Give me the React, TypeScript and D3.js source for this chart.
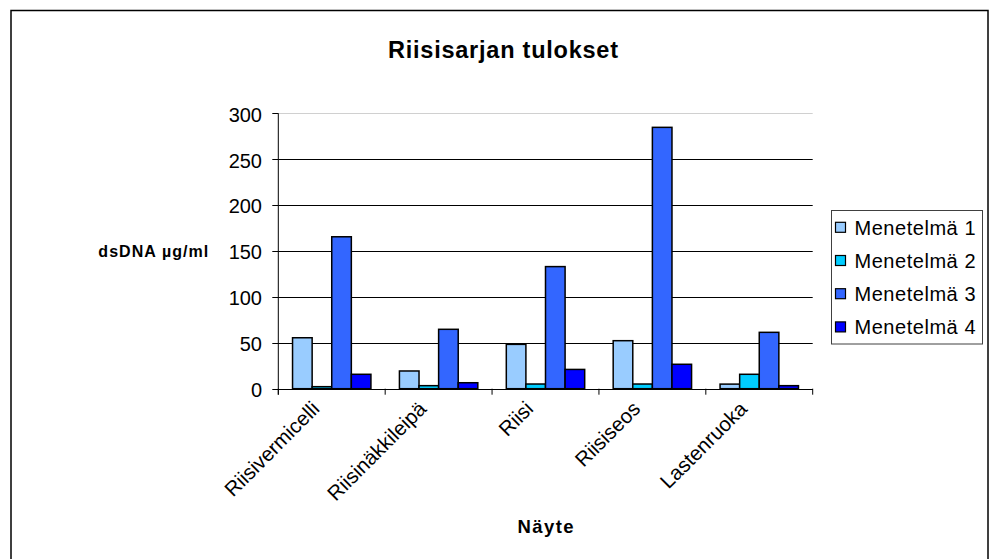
import React from "react";
import * as d3 from "d3";

// Sample categories (x axis)
const categories = ["Riisivermicelli", "Riisinäkkileipä", "Riisi", "Riisiseos", "Lastenruoka"];

// Series names and their values (dsDNA µg/ml)
const seriesNames = ["Menetelmä 1", "Menetelmä 2", "Menetelmä 3", "Menetelmä 4"];
const menetelma1 = [55.5, 19.3, 48.3, 52.3, 5];
const menetelma2 = [2.2, 3.3, 5.1, 5.1, 15.7];
const menetelma3 = [165.5, 64.7, 133, 284.7, 61.4];
const menetelma4 = [15.7, 6.5, 21, 26.6, 3.3];
const seriesValues = [menetelma1, menetelma2, menetelma3, menetelma4];
const seriesColors = ["#99CCFF", "#00CCFF", "#3366FF", "#0000FF"];

const yTicks = [0, 50, 100, 150, 200, 250, 300];

const titleText = "Riisisarjan tulokset";
const yAxisTitle = "dsDNA µg/ml";
const xAxisTitle = "Näyte";

const W = 989;
const H = 559;
const FONT = "'Liberation Sans', Arial, sans-serif";

export default function App() {
  const plotLeft = 278.3;
  const plotRight = 812.7;
  const plotTop = 113.3;
  const plotBottom = 388.7;

  const y = d3.scaleLinear().domain([0, 300]).range([plotBottom, plotTop]);
  const x0 = d3.scaleBand<string>().domain(categories).range([plotLeft, plotRight]).padding(0);
  const x1 = d3
    .scaleBand<string>()
    .domain(seriesNames)
    .range([0, x0.bandwidth()])
    .paddingInner(0)
    .paddingOuter(0.727);

  const boundaries = categories.map((c) => x0(c) as number).concat([plotRight]);

  return (
    <svg
      width={W}
      height={H}
      style={{ position: "absolute", left: 0, top: 0, background: "#fff" }}
      fontFamily={FONT}
    >
      <rect x={0} y={0} width={W} height={H} fill="#fff" />
      {/* chart frame */}
      <rect x={11} y={10.5} width={977} height={600} fill="none" stroke="#000" strokeWidth={1.5} />

      {/* title */}
      <text
        x={503}
        y={58.3}
        textAnchor="middle"
        fontSize={23.5}
        fontWeight="bold"
        textLength={230}
        lengthAdjust="spacing"
      >
        {titleText}
      </text>

      {/* gridlines */}
      {yTicks.map((t) => (
        <line
          key={"g" + t}
          x1={plotLeft}
          x2={plotRight}
          y1={Math.round(y(t)) + 0.5}
          y2={Math.round(y(t)) + 0.5}
          stroke={t === 300 ? "#d0d0d0" : "#000"}
          strokeWidth={1}
        />
      ))}

      {/* bars */}
      {categories.map((c, ci) => (
        <g key={c} transform={`translate(${x0(c)},0)`}>
          {seriesNames.map((s, si) => {
            const v = seriesValues[si][ci];
            const top = y(v);
            return (
              <rect
                key={s}
                x={x1(s) as number}
                y={top}
                width={x1.bandwidth()}
                height={plotBottom - top}
                fill={seriesColors[si]}
                stroke="#000"
                strokeWidth={1.5}
              />
            );
          })}
        </g>
      ))}

      {/* y axis */}
      <line x1={plotLeft} x2={plotLeft} y1={plotTop} y2={plotBottom + 6} stroke="#000" strokeWidth={1} />
      {yTicks.map((t) => (
        <g key={"yt" + t}>
          <line
            x1={plotLeft - 6}
            x2={plotLeft}
            y1={Math.round(y(t)) + 0.5}
            y2={Math.round(y(t)) + 0.5}
            stroke="#000"
          />
          <text x={262} y={y(t) + 8.3} textAnchor="end" fontSize={20}>
            {t}
          </text>
        </g>
      ))}

      {/* x axis */}
      <line x1={plotLeft} x2={plotRight} y1={Math.round(plotBottom) + 0.5} y2={Math.round(plotBottom) + 0.5} stroke="#000" />
      {boundaries.map((bx, i) => (
        <line key={"xt" + i} x1={bx} x2={bx} y1={plotBottom} y2={plotBottom + 6} stroke="#000" />
      ))}
      {categories.map((c) => {
        const cx = (x0(c) as number) + x0.bandwidth() / 2;
        const ax = cx - 16;
        const ay = 405;
        return (
          <text
            key={"xl" + c}
            x={ax}
            y={ay}
            dy="0.35em"
            textAnchor="end"
            fontSize={20.5}
            transform={`rotate(-45, ${ax}, ${ay})`}
          >
            {c}
          </text>
        );
      })}

      {/* axis titles */}
      <text x={98.3} y={256.7} fontSize={16} fontWeight="bold" textLength={110} lengthAdjust="spacing">
        {yAxisTitle}
      </text>
      <text
        x={(plotLeft + plotRight) / 2}
        y={533}
        textAnchor="middle"
        fontSize={18.5}
        fontWeight="bold"
        textLength={56}
        lengthAdjust="spacing"
      >
        {xAxisTitle}
      </text>

      {/* legend */}
      <rect x={831.5} y={210.5} width={151} height={133.5} fill="#fff" stroke="#404040" strokeWidth={1} />
      {seriesNames.map((s, i) => {
        const cy = 227.3 + i * 33.2;
        return (
          <g key={"lg" + s}>
            <rect x={835.5} y={cy - 5} width={10} height={10} fill={seriesColors[i]} stroke="#000" strokeWidth={1.2} />
            <text x={854.5} y={cy + 7.2} fontSize={20} textLength={121} lengthAdjust="spacing">
              {s}
            </text>
          </g>
        );
      })}
    </svg>
  );
}
